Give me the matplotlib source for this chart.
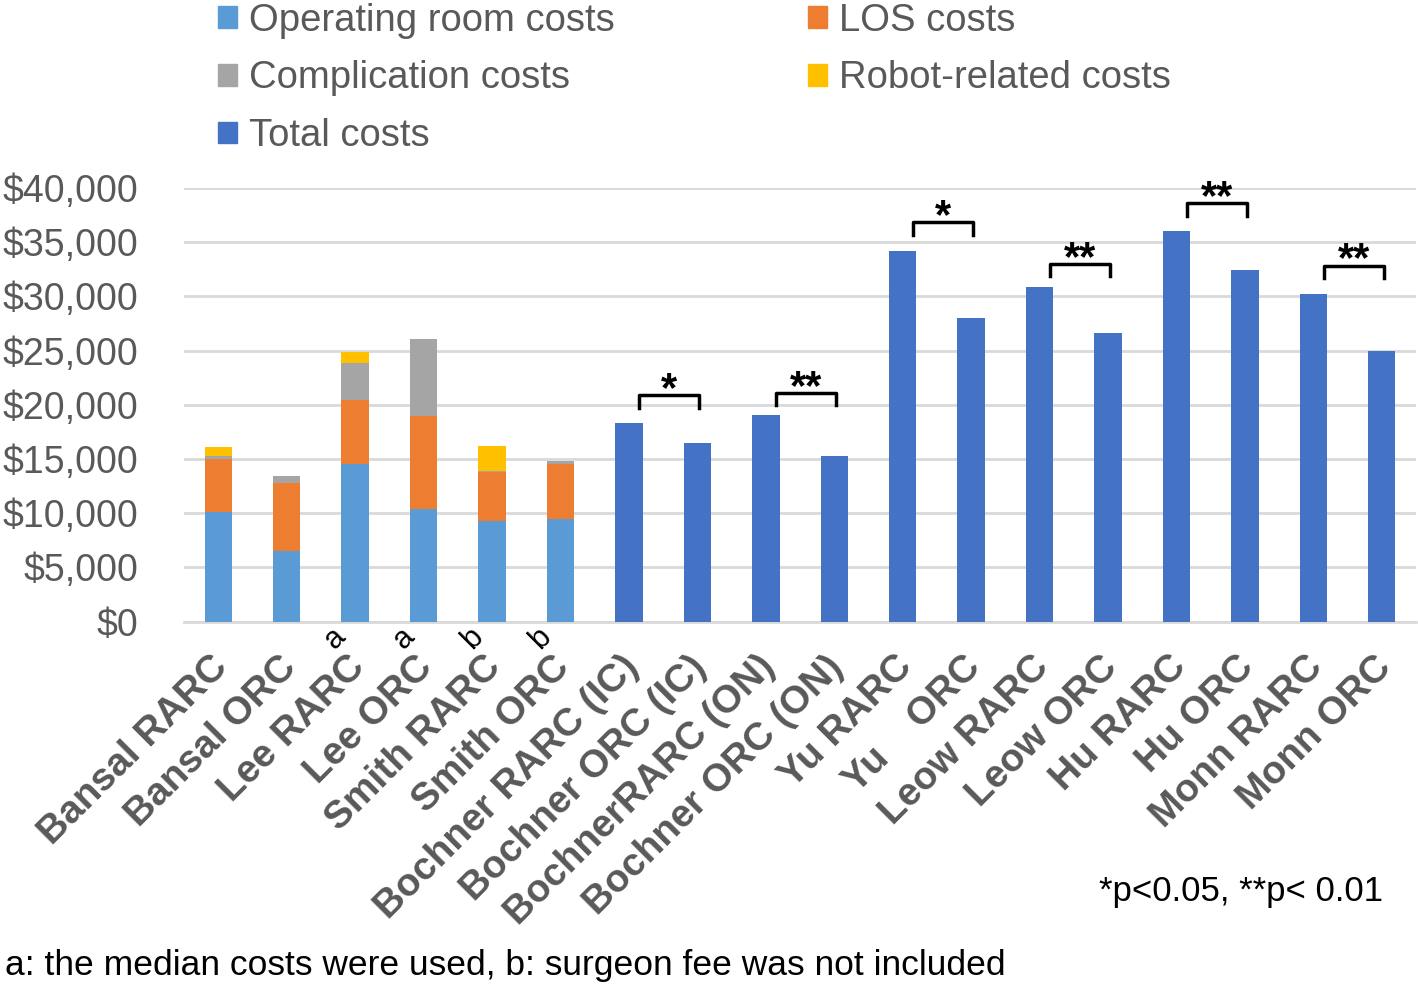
import matplotlib
matplotlib.use("Agg")
import matplotlib.pyplot as plt
from matplotlib.patches import Patch
from matplotlib.ticker import FuncFormatter
from matplotlib.transforms import ScaledTranslation

plt.rcParams['font.family'] = ['Liberation Sans', 'DejaVu Sans']

# category names on the x axis
categories = ["Bansal RARC", "Bansal ORC", "Lee RARC", "Lee ORC", "Smith RARC", "Smith ORC",
              "Bochner RARC (IC)", "Bochner ORC (IC)", "BochnerRARC (ON)", "Bochner ORC (ON)",
              "Yu RARC", "Yu    ORC", "Leow RARC", "Leow ORC", "Hu RARC", "Hu ORC",
              "Monn RARC", "Monn ORC"]

# stacked components (first 6 categories)
or_costs    = [10150, 6500, 14530, 10400, 9300, 9480]
los_costs   = [4850, 6280, 5940, 8570, 4460, 5050]
comp_costs  = [300, 700, 3430, 7070, 100, 310]
robot_costs = [800, 0, 1000, 0, 2300, 0]

# total costs (remaining 12 categories)
total_costs = [18300, 16500, 19100, 15250, 34200, 28050, 30900, 26600, 36000, 32400, 30200, 25000]

# footnote letters on some labels
notes = {2: "a", 3: "a", 4: "b", 5: "b"}

# significance brackets: (left index, right index, label)
sig_pairs  = [(6, 7, "*"), (8, 9, "**"), (10, 11, "*"), (12, 13, "**"), (14, 15, "**"), (16, 17, "**")]
sig_heights = [20900, 21100, 36850, 33000, 38600, 32850]

c_or, c_los, c_comp, c_robot, c_total = "#5B9BD5", "#ED7D31", "#A5A5A5", "#FFC000", "#4472C4"
gray = "#595959"
w = 0.4

fig = plt.figure(figsize=(14.18, 9.86), dpi=100)
ax = fig.add_axes([0.1298, 0.3695, 0.8688, 0.4398])

x1 = list(range(len(or_costs)))
b1 = or_costs
b2 = [a + b for a, b in zip(b1, los_costs)]
b3 = [a + b for a, b in zip(b2, comp_costs)]
ax.bar(x1, or_costs, w, color=c_or, zorder=3)
ax.bar(x1, los_costs, w, bottom=b1, color=c_los, zorder=3)
ax.bar(x1, comp_costs, w, bottom=b2, color=c_comp, zorder=3)
ax.bar(x1, robot_costs, w, bottom=b3, color=c_robot, zorder=3)

x2 = list(range(len(or_costs), len(categories)))
ax.bar(x2, total_costs, w, color=c_total, zorder=3)

# brackets and stars
for (i, j, lab), h in zip(sig_pairs, sig_heights):
    xl, xr = i + 0.15, j + 0.03
    leg = h - 1150
    ax.plot([xl, xl, xr, xr], [leg, h, h, leg], color="black", lw=2.5,
            solid_joinstyle="round", zorder=4, clip_on=False)
    ax.text((xl + xr) / 2, h - 550, lab, ha="center", va="baseline", fontsize=30,
            fontweight="bold", color="black", clip_on=False)

ax.set_xlim(-0.5, len(categories) - 0.5)
ax.set_ylim(0, 40000)
ax.set_yticks(range(0, 40001, 5000))
ax.yaxis.set_major_formatter(FuncFormatter(lambda v, p: f"${v:,.0f}"))
ax.grid(axis="y", color="#D9D9D9", lw=2, zorder=0)
for s in ["top", "right", "left"]:
    ax.spines[s].set_visible(False)
ax.spines["bottom"].set_color("#D9D9D9")
ax.spines["bottom"].set_linewidth(2)
ax.tick_params(axis="y", length=0, pad=33, labelsize=27, labelcolor=gray)
ax.tick_params(axis="x", length=0, pad=8)

ax.set_xticks(range(len(categories)))
ax.set_xticklabels(categories, rotation=45, ha="right", va="top", rotation_mode="anchor",
                   fontsize=28, fontweight="bold", color=gray)
shift = ScaledTranslation(-9 / 100, -16 / 100, fig.dpi_scale_trans)
for lbl in ax.get_xticklabels():
    lbl.set_transform(lbl.get_transform() + shift)

for i, t in notes.items():
    ax.annotate(t, xy=(i, 0), xytext=(-20, -17), textcoords="offset pixels",
                ha="center", va="center", rotation=45, fontsize=22, color="black")

handles = [Patch(color=c_or), Patch(color=c_comp), Patch(color=c_total),
           Patch(color=c_los), Patch(color=c_robot)]
labels = ["Operating room costs", "Complication costs", "Total costs",
          "LOS costs", "Robot-related costs"]
fig.legend(handles, labels, ncol=2, loc="upper left", bbox_to_anchor=(0.1295, 1.032),
           frameon=False, fontsize=27.5, labelcolor=gray, handlelength=0.5, handleheight=0.5,
           handletextpad=0.3, columnspacing=5.08, labelspacing=0.565)

fig.text(1383 / 1418, 1 - 892 / 986, "*p<0.05, **p< 0.01", ha="right", va="center",
         fontsize=25, color="black")
fig.text(5 / 1418, 1 - 965 / 986, "a: the median costs were used, b: surgeon fee was not included",
         ha="left", va="center", fontsize=25.5, color="black")

fig.savefig("out.png", dpi=100)
